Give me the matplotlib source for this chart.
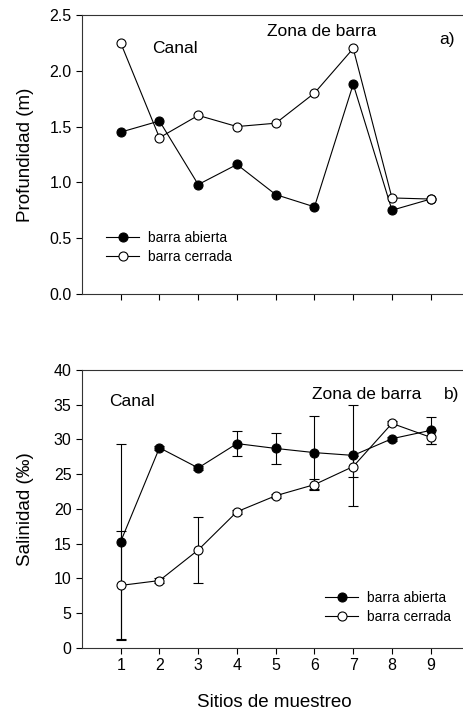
import matplotlib
matplotlib.use("Agg")
import matplotlib.pyplot as plt
from matplotlib.lines import Line2D

plt.rcParams['font.family'] = ['Liberation Sans', 'DejaVu Sans']

sitios = [1, 2, 3, 4, 5, 6, 7, 8, 9]

# Profundidad (m)
prof_abierta = [1.45, 1.55, 0.98, 1.16, 0.89, 0.78, 1.88, 0.75, 0.85]
prof_cerrada = [2.25, 1.40, 1.60, 1.50, 1.53, 1.80, 2.20, 0.86, 0.85]

# Salinidad (permil) with error
sal_abierta = [15.3, 28.8, 25.9, 29.4, 28.7, 28.1, 27.7, 30.1, 31.3]
sal_abierta_err = [14.0, 0.3, 0.3, 1.8, 2.2, 5.3, 7.3, 0.3, 1.9]
sal_cerrada = [9.0, 9.7, 14.1, 19.6, 21.9, 23.5, 26.1, 32.3, 30.3]
sal_cerrada_err = [7.8, 0.3, 4.8, 0.3, 0.3, 0.8, 1.5, 0.3, 1.0]

labels = ['barra abierta', 'barra cerrada']

fig = plt.figure(figsize=(4.63, 7.15), dpi=100)
ax1 = fig.add_axes([0.177, 0.589, 0.837, 0.390])
ax2 = fig.add_axes([0.177, 0.0937, 0.837, 0.389])

mk = dict(marker='o', markersize=6.5, color='black', linewidth=0.8,
          markeredgecolor='black', markeredgewidth=0.8)
eb = dict(capsize=3.5, elinewidth=0.8, capthick=0.8, ecolor='black')

ax1.plot(sitios, prof_abierta, markerfacecolor='black', **mk)
ax1.plot(sitios, prof_cerrada, markerfacecolor='white', **mk)

ax2.errorbar(sitios, sal_abierta, yerr=sal_abierta_err, markerfacecolor='black', **eb, **mk)
ax2.errorbar(sitios, sal_cerrada, yerr=sal_cerrada_err, markerfacecolor='white', **eb, **mk)

handles = [Line2D([], [], markerfacecolor='black', **mk),
           Line2D([], [], markerfacecolor='white', **mk)]

for ax in (ax1, ax2):
    ax.set_xlim(0, 10)
    ax.set_xticks(sitios)
    ax.tick_params(direction='out', length=4, width=0.8, labelsize=11.5)
    ax.spines['right'].set_visible(False)
    for s in ax.spines.values():
        s.set_linewidth(0.8)
        s.set_color('#333333')
    ax.legend(handles, labels, loc='center left', frameon=False, fontsize=10,
              handlelength=2.4, handletextpad=0.6, labelspacing=0.37,
              borderpad=0, borderaxespad=0,
              bbox_to_anchor=(0.062, 0.167) if ax is ax1 else (0.627, 0.146))

ax1.set_ylim(0, 2.5)
ax1.set_yticks([0.0, 0.5, 1.0, 1.5, 2.0, 2.5])
ax1.set_yticklabels(['0.0', '0.5', '1.0', '1.5', '2.0', '2.5'])
ax1.set_xticklabels([])
ax1.set_ylabel('Profundidad (m)', fontsize=13.5)
ax1.yaxis.set_label_coords(-0.124, 0.5)

ax2.set_ylim(0, 40)
ax2.set_yticks(range(0, 41, 5))
ax2.set_ylabel('Salinidad (‰)', fontsize=13.5)
ax2.yaxis.set_label_coords(-0.124, 0.5)
ax2.set_xlabel('Sitios de muestreo', fontsize=13.5)
ax2.xaxis.set_label_coords(0.497, -0.165)

ax1.text(2.4, 2.2, 'Canal', fontsize=12.5, ha='center', va='center')
ax1.text(6.19, 2.35, 'Zona de barra', fontsize=12.5, ha='center', va='center')
ax1.text(9.42, 2.28, 'a)', fontsize=12.5, ha='center', va='center')
ax2.text(1.29, 35.4, 'Canal', fontsize=12.5, ha='center', va='center')
ax2.text(7.35, 36.4, 'Zona de barra', fontsize=12.5, ha='center', va='center')
ax2.text(9.55, 36.4, 'b)', fontsize=12.5, ha='center', va='center')

fig.savefig('out.png', dpi=100)
